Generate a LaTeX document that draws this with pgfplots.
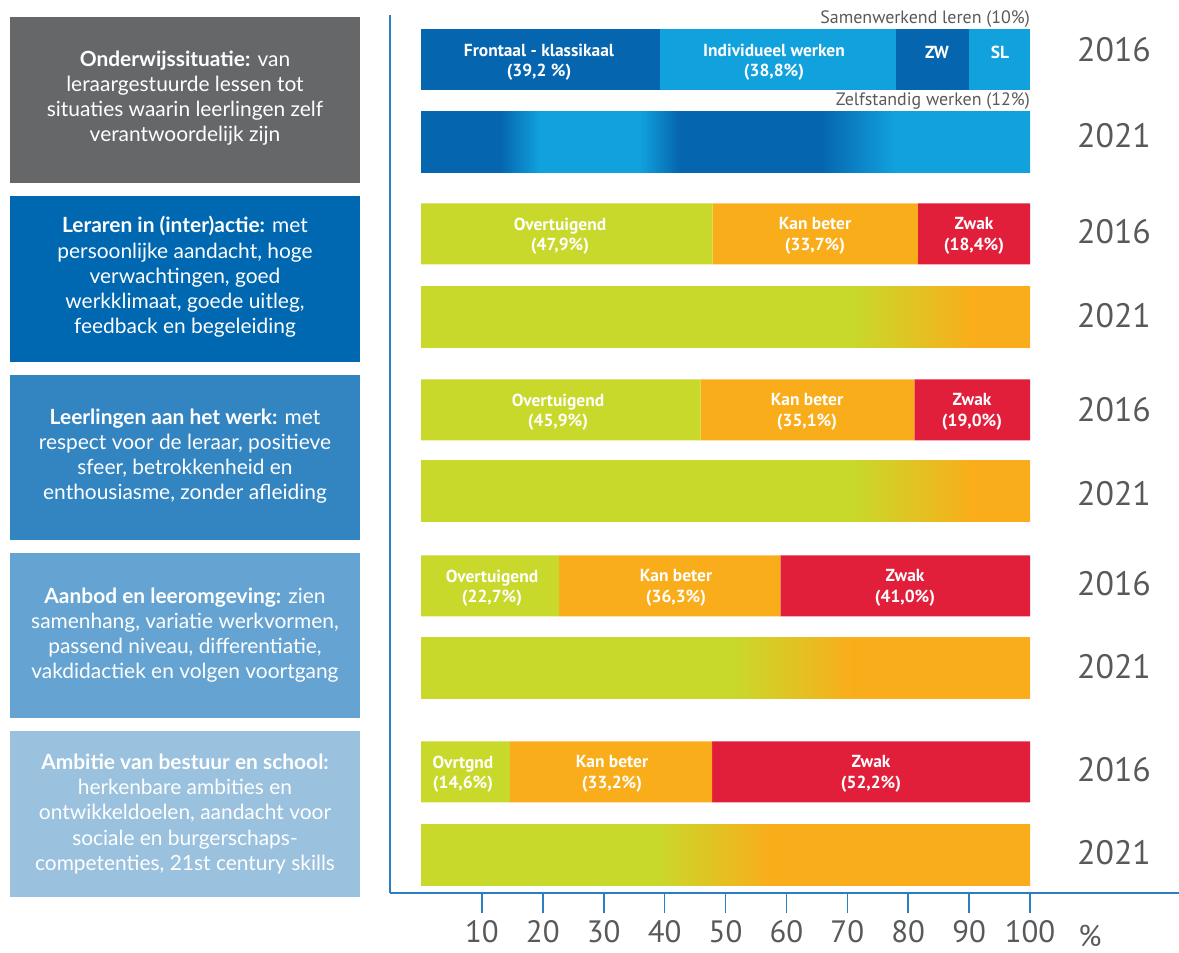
\documentclass[border=0pt]{standalone}
\usepackage{fontspec}
\setmainfont{Lato}
\newfontfamily\pts{PT Sans}
\usepackage{pgfplots}
\pgfplotsset{compat=1.18}

\definecolor{boxA}{HTML}{666769}
\definecolor{boxB}{HTML}{0067B1}
\definecolor{boxC}{HTML}{3385C2}
\definecolor{boxD}{HTML}{65A4D2}
\definecolor{boxE}{HTML}{9AC1DE}
\definecolor{dblue}{HTML}{0565AE}
\definecolor{lblue}{HTML}{11A1DD}
\definecolor{cgreen}{HTML}{C8D92B}
\definecolor{corange}{HTML}{FAAD1A}
\definecolor{cred}{HTML}{E21F3B}
\definecolor{axisblue}{HTML}{2B7EC1}
\definecolor{tickgray}{HTML}{58595B}

% 2021 bars: shadings (25bp..75bp of the shading covers the bar)
\pgfdeclarehorizontalshading{gradOne}{100bp}{color(0bp)=(dblue); color(31.5bp)=(dblue); color(34.75bp)=(lblue); color(43bp)=(lblue); color(46.25bp)=(dblue); color(57.75bp)=(dblue); color(63.9bp)=(lblue); color(100bp)=(lblue)}
\pgfdeclarehorizontalshading{gradTwo}{100bp}{color(0bp)=(cgreen); color(60.4bp)=(cgreen); color(70.4bp)=(corange); color(100bp)=(corange)}
\pgfdeclarehorizontalshading{gradThree}{100bp}{color(0bp)=(cgreen); color(60.4bp)=(cgreen); color(70.4bp)=(corange); color(100bp)=(corange)}
\pgfdeclarehorizontalshading{gradFour}{100bp}{color(0bp)=(cgreen); color(50.6bp)=(cgreen); color(60.4bp)=(corange); color(100bp)=(corange)}
\pgfdeclarehorizontalshading{gradFive}{100bp}{color(0bp)=(cgreen); color(44.2bp)=(cgreen); color(53.8bp)=(corange); color(100bp)=(corange)}

\pgfplotsset{
  common/.style={
    at={(390bp,60bp)}, anchor=south west, scale only axis,
    width=789bp, height=878bp,
    xmin=-5.09, xmax=124.47, ymin=60, ymax=938,
    bar width=61, clip=false,
  },
}
\tikzset{
  barlab/.style={font=\pts\fontsize{17.5}{20.5}\selectfont\bfseries, text=white, align=center, inner sep=0pt},
  boxtxt/.style={text=white, align=center, font=\fontsize{21}{25.3}\selectfont, inner sep=0pt},
  annot/.style={font=\pts\fontsize{18}{18}\selectfont, text=tickgray, anchor=east, inner sep=0pt},
  yr/.style={font=\pts\fontsize{34}{34}\selectfont, text=tickgray, inner sep=0pt},
}

\begin{document}
\begin{tikzpicture}[x=1bp,y=1bp]
\path[use as bounding box] (0,0) rectangle (1179,953);

% left boxes
\fill[boxA] (10,953-183) rectangle (360,953-17);
\fill[boxB] (10,953-362) rectangle (360,953-196);
\fill[boxC] (10,953-540) rectangle (360,953-375);
\fill[boxD] (10,953-718) rectangle (360,953-553);
\fill[boxE] (10,953-897) rectangle (360,953-731);

\node[boxtxt] at (185,953-98) {\textbf{Onderwijssituatie:} van\\leraargestuurde lessen tot\\situaties waarin leerlingen zelf\\verantwoordelijk zijn};
\node[boxtxt] at (185,953-277) {\textbf{Leraren in (inter)actie:} met\\persoonlijke aandacht, hoge\\verwachtingen, goed\\werkklimaat, goede uitleg,\\feedback en begeleiding};
\node[boxtxt] at (185,953-456) {\textbf{Leerlingen aan het werk:} met\\respect voor de leraar, positieve\\sfeer, betrokkenheid en\\enthousiasme, zonder afleiding};
\node[boxtxt] at (185,953-635) {\textbf{Aanbod en leeromgeving:} zien\\samenhang, variatie werkvormen,\\passend niveau, differentiatie,\\vakdidactiek en volgen voortgang};
\node[boxtxt] at (185,953-814) {\textbf{Ambitie van bestuur en school:}\\herkenbare ambities en\\ontwikkeldoelen, aandacht voor\\sociale en burgerschaps-\\competenties, 21st century skills};

% main axis with 2021 gradient bars
\begin{axis}[common,
  xbar, bar shift=0pt,
  axis x line=bottom, axis y line=left,
  axis line style={draw=axisblue, line width=2.5bp, -},
  every outer x axis line/.append style={-},
  every outer y axis line/.append style={-},
  xtick={10,20,...,100}, ytick=\empty,
  tick align=outside, major tick length=20bp,
  x tick style={axisblue, line width=1.6bp},
  xticklabel style={font=\pts\fontsize{31}{31}\selectfont, text=tickgray, yshift=-4bp},
  /pgf/number format/assume math mode=true,
]
\addplot[xbar, bar shift=0pt, draw=none, shading=gradOne] coordinates {(100,811)};
\addplot[xbar, bar shift=0pt, draw=none, shading=gradTwo] coordinates {(100,636)};
\addplot[xbar, bar shift=0pt, draw=none, shading=gradThree] coordinates {(100,462)};
\addplot[xbar, bar shift=0pt, draw=none, shading=gradFour] coordinates {(100,285)};
\addplot[xbar, bar shift=0pt, draw=none, shading=gradFive] coordinates {(100,98)};
\end{axis}

% row 1, 2016: teaching situation
\begin{axis}[common, hide axis, xbar stacked]
\addplot[fill=dblue, draw=none] coordinates {(39.2,893)};
\addplot[fill=lblue, draw=none] coordinates {(38.8,893)};
\addplot[fill=dblue, draw=none] coordinates {(12,893)};
\addplot[fill=lblue, draw=none] coordinates {(10,893)};
\end{axis}

% rows 2-5, 2016: quality judgements
\begin{axis}[common, hide axis, xbar stacked]
\addplot[fill=cgreen, draw=none] coordinates {(47.9,719) (45.9,543) (22.7,367) (14.6,181)};
\addplot[fill=corange, draw=none] coordinates {(33.7,719) (35.1,543) (36.3,367) (33.2,181)};
\addplot[fill=cred, draw=none] coordinates {(18.4,719) (19.0,543) (41.0,367) (52.2,181)};
\end{axis}

% bar labels (centred in their segments)
\node[barlab] at (539,891) {Frontaal - klassikaal\\(39,2 \%)};
\node[barlab] at (774,891) {Individueel werken\\(38,8\%)};
\node[barlab] at (937,901) {ZW};
\node[barlab] at (1000,901) {SL};
\node[barlab] at (560,717) {Overtuigend\\(47,9\%)};
\node[barlab] at (815,717) {Kan beter\\(33,7\%)};
\node[barlab] at (974,717) {Zwak\\(18,4\%)};
\node[barlab] at (558,541) {Overtuigend\\(45,9\%)};
\node[barlab] at (807,541) {Kan beter\\(35,1\%)};
\node[barlab] at (972,541) {Zwak\\(19,0\%)};
\node[barlab] at (492,365) {Overtuigend\\(22,7\%)};
\node[barlab] at (676,365) {Kan beter\\(36,3\%)};
\node[barlab] at (905,365) {Zwak\\(41,0\%)};
\node[barlab] at (463,179) {Ovrtgnd\\(14,6\%)};
\node[barlab] at (612,179) {Kan beter\\(33,2\%)};
\node[barlab] at (871,179) {Zwak\\(52,2\%)};

% annotations above row 1
\node[annot] at (1030,953-19) {Samenwerkend leren (10\%)};
\node[annot] at (1030,953-101) {Zelfstandig werken (12\%)};

% year labels
\node[yr] at (1114,953-50) {2016};
\node[yr] at (1114,953-136) {2021};
\node[yr] at (1114,953-232) {2016};
\node[yr] at (1114,953-316) {2021};
\node[yr] at (1114,953-410) {2016};
\node[yr] at (1114,953-494) {2021};
\node[yr] at (1114,953-584) {2016};
\node[yr] at (1114,953-667) {2021};
\node[yr] at (1114,953-770) {2016};
\node[yr] at (1114,953-853) {2021};

% percent sign after the ticks
\node[font=\pts\fontsize{30}{30}\selectfont, text=tickgray, inner sep=0pt] at (1090,953-936) {\%};
\end{tikzpicture}
\end{document}
